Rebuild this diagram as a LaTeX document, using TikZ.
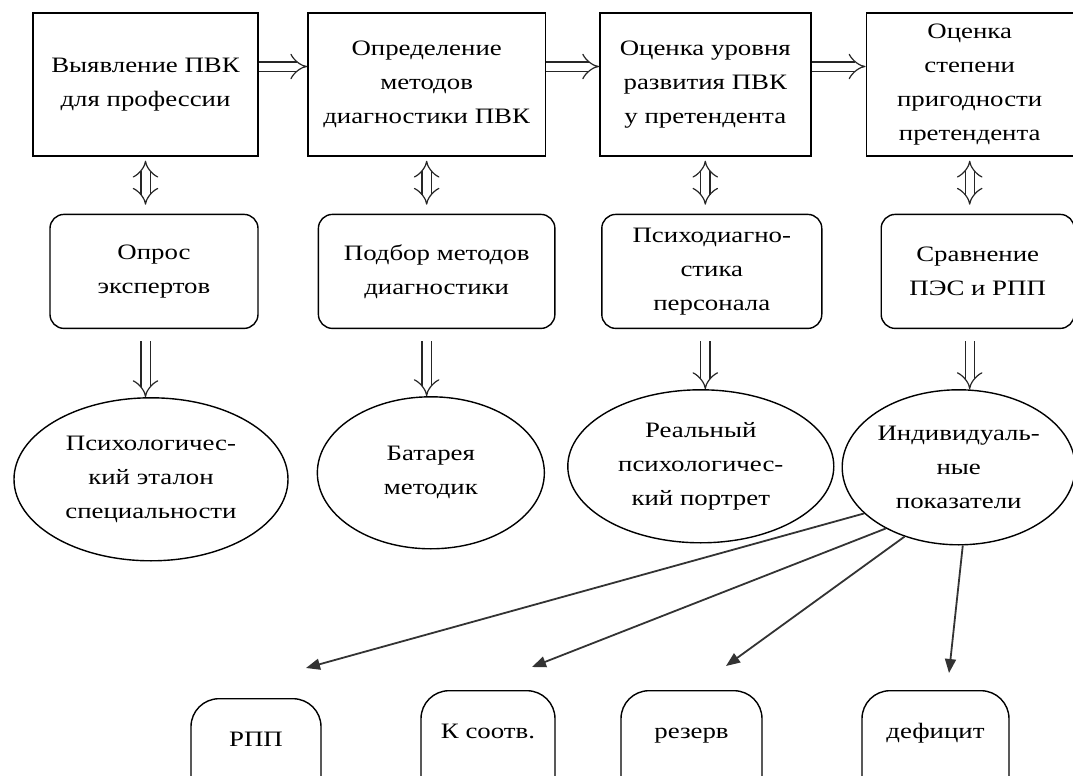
\documentclass[tikz,border=0pt]{standalone}
\usepackage{fontspec}
\setmainfont[FakeStretch=1.22]{Liberation Serif}
\usetikzlibrary{positioning,shapes.geometric,arrows.meta}

\begin{document}
\begin{tikzpicture}[x=0.5pt,y=-0.5pt,
   every node/.style={font=\fontsize{11}{17}\selectfont,align=center,line width=0.7pt},
   sbox/.style={draw,rectangle,minimum width=#1,minimum height=71.5pt,inner sep=0pt},
   rbox/.style={draw,rectangle,rounded corners=7pt,minimum width=#1,minimum height=57pt,inner sep=0pt},
   oval/.style 2 args={draw,ellipse,minimum width=#1,minimum height=#2,inner sep=0pt},
   tbox/.style={draw,rectangle,rounded corners=14pt,anchor=north,minimum width=#1,
      text height=8pt,text depth=40pt,inner ysep=16pt,inner xsep=0pt},
   harr/.style={draw=black!85,double,double distance=4pt,line width=0.6pt,-{Implies[scale=1.4]}},
   varr/.style={harr,{Implies[scale=1.4]}-{Implies[scale=1.4]}},
   larr/.style={draw=black!80,line width=0.9pt,-{Triangle[length=7pt,width=5.5pt]}}]
   \useasboundingbox (0,0) rectangle (1073,776);
   \clip (0,0) rectangle (1073,776);

   \node[sbox=112.5pt] (b1) at (145.5,84.5) {Выявление ПВК\\для профессии};
   \node[sbox=118.75pt,right=24.25pt of b1] (b2) {Определение\\методов\\диагностики ПВК};
   \node[sbox=105.5pt,right=26.5pt of b2] (b3) {Оценка уровня\\развития ПВК\\у претендента};
   \node[sbox=103.5pt,right=27pt of b3] (b4) {Оценка\\степени\\пригодности\\претендента};

   \node[rbox=104pt,below=28.5pt of b1,xshift=4.25pt] (r1) {Опрос\\экспертов};
   \node[rbox=118.25pt,below=28.5pt of b2,xshift=5pt] (r2) {Подбор методов\\диагностики};
   \node[rbox=110pt,below=28.5pt of b3,xshift=3.25pt] (r3) {Психодиагно-\\стика\\персонала};
   \node[rbox=96.5pt,below=28.5pt of b4,xshift=4pt] (r4) {Сравнение\\ПЭС и РПП};

   \node[oval={137pt}{81.5pt},below=34pt of r1,xshift=-1.5pt] (e1) {Психологичес-\\кий эталон\\специальности};
   \node[oval={113.5pt}{76pt},below=33.5pt of r2,xshift=-2.9pt] (e2) {Батарея\\методик};
   \node[oval={133pt}{76.5pt},below=30pt of r3,xshift=-5.5pt] (e3) {Реальный\\психологичес-\\кий портрет};
   \node[oval={116.5pt}{77.5pt},below=30pt of r4,xshift=-9.5pt] (e4) {Индивидуаль-\\ные\\показатели};

   \node[tbox=65pt] (rpp) at (256,698) {РПП};
   \node[tbox=67pt] (ksoot) at (488,690) {К соотв.};
   \node[tbox=70.5pt] (rez) at (691.5,690) {резерв};
   \node[tbox=73.5pt] (def) at (935.5,690) {дефицит};

   \draw[harr] ([yshift=9pt]b1.east) -- ([yshift=9pt]b2.west);
   \draw[harr] ([yshift=9pt]b2.east) -- ([yshift=9pt]b3.west);
   \draw[harr] ([yshift=9pt]b3.east) -- ([yshift=9pt]b4.west);

   \draw[varr,shorten <=2pt,shorten >=4.5pt] (b1.south) -- (b1.south |- r1.north);
   \draw[varr,shorten <=2pt,shorten >=4.5pt] (b2.south) -- (b2.south |- r2.north);
   \draw[varr,shorten <=2pt,shorten >=4.5pt] (b3.south) -- (b3.south |- r3.north);
   \draw[varr,shorten <=2pt,shorten >=4.5pt] (b4.south) -- (b4.south |- r4.north);

   \draw[harr,shorten <=6pt] (b1.south |- r1.south) -- (b1.south |- e1.north);
   \draw[harr,shorten <=6pt] (b2.south |- r2.south) -- (b2.south |- e2.north);
   \draw[harr,shorten <=6pt] (b3.south |- r3.south) -- (b3.south |- e3.north);
   \draw[harr,shorten <=6pt] (b4.south |- r4.south) -- (b4.south |- e4.north);

   \coordinate (t1) at (306,668);
   \coordinate (t2) at (532,667);
   \coordinate (t3) at (726,666);
   \coordinate (t4) at (949,673);
   \draw[larr] (e4.206) -- (t1);
   \draw[larr] (e4.220) -- (t2);
   \draw[larr] (e4.232) -- (t3);
   \draw[larr] (e4.273) -- (t4);
\end{tikzpicture}
\end{document}
